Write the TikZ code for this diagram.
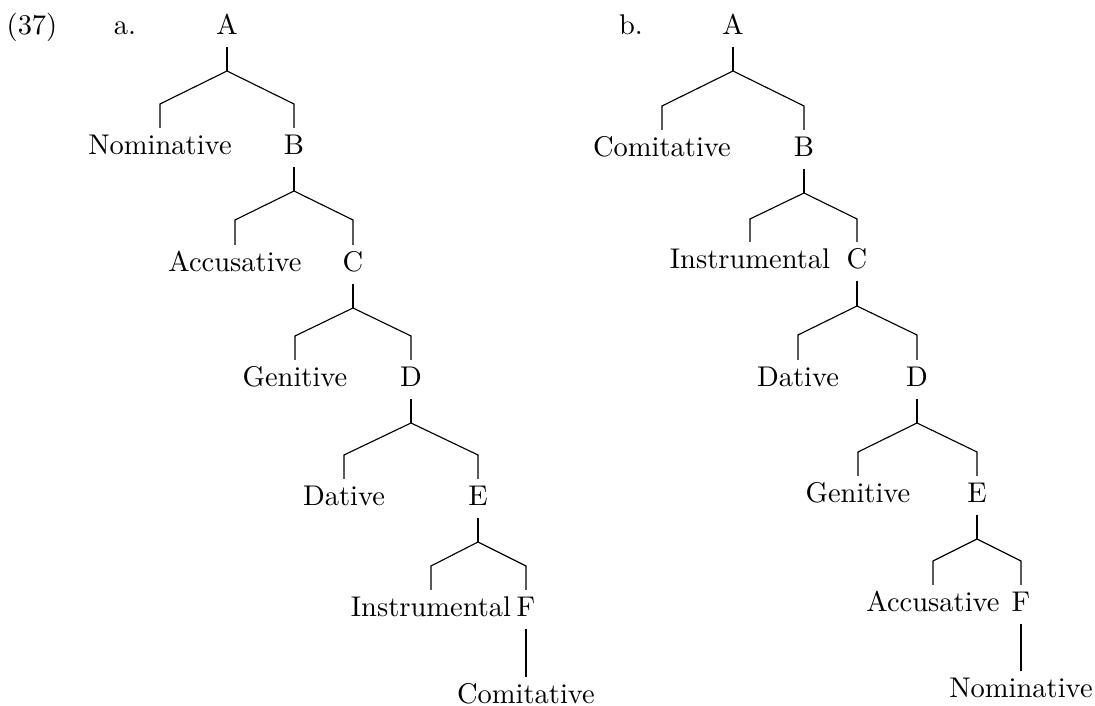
\documentclass[tikz,border=0pt]{standalone}
\usepackage{tikz}
\usetikzlibrary{positioning}
\tikzset{
    cat/.style={anchor=base, text height=6.83pt, text depth=1.4pt, inner ysep=2.5pt},
    branch/.style={draw=black, line width=0.4pt},
}
\begin{document}
\begin{tikzpicture}[x=0.3509pt, y=-0.3509pt]
	\useasboundingbox (0,0) rectangle (1095,706);
	\node[cat] (ex) at (32,35) {(37)};
	\node[cat] (la) at (125,35) {a.};
	\node[cat] (lb) at (631,35) {b.};
	% tree a
	\node[cat] (aA) at (227,35) {A};
	\node[cat] (aNom) at (160,155) {Nominative};
	\node[cat] (aB) at (294,155) {B};
	\node[cat] (aAcc) at (235,272) {Accusative};
	\node[cat] (aC) at (353,272) {C};
	\node[cat] (aGen) at (295,387) {Genitive};
	\node[cat] (aD) at (411,387) {D};
	\node[cat] (aDat) at (344,506) {Dative};
	\node[cat] (aE) at (478,506) {E};
	\node[cat] (aIns) at (431,617) {Instrumental};
	\node[cat] (aF) at (526,617) {F};
	\node[cat] (aCom) at (526,704) {Comitative};
	\coordinate (aAj) at (227,71);
	\coordinate (aAl) at (160,104);
	\coordinate (aAr) at (294,104);
	\coordinate (aBj) at (294,191);
	\coordinate (aBl) at (235,220);
	\coordinate (aBr) at (353,220);
	\coordinate (aCj) at (353,308);
	\coordinate (aCl) at (295,336);
	\coordinate (aCr) at (411,336);
	\coordinate (aDj) at (411,423);
	\coordinate (aDl) at (344,455);
	\coordinate (aDr) at (478,455);
	\coordinate (aEj) at (478,542);
	\coordinate (aEl) at (431,566);
	\coordinate (aEr) at (526,566);
	\draw[branch] (aA) -- (aAj);
	\draw[branch] (aNom) -- (aAl) -- (aAj) -- (aAr) -- (aB);
	\draw[branch] (aB) -- (aBj);
	\draw[branch] (aAcc) -- (aBl) -- (aBj) -- (aBr) -- (aC);
	\draw[branch] (aC) -- (aCj);
	\draw[branch] (aGen) -- (aCl) -- (aCj) -- (aCr) -- (aD);
	\draw[branch] (aD) -- (aDj);
	\draw[branch] (aDat) -- (aDl) -- (aDj) -- (aDr) -- (aE);
	\draw[branch] (aE) -- (aEj);
	\draw[branch] (aIns) -- (aEl) -- (aEj) -- (aEr) -- (aF);
	\draw[branch] (aF) -- (aCom);
	% tree b
	\node[cat] (bA) at (733,35) {A};
	\node[cat] (bCom) at (662,157) {Comitative};
	\node[cat] (bB) at (804,157) {B};
	\node[cat] (bIns) at (750,269) {Instrumental};
	\node[cat] (bC) at (857,269) {C};
	\node[cat] (bDat) at (798,387) {Dative};
	\node[cat] (bD) at (917,387) {D};
	\node[cat] (bGen) at (858,503) {Genitive};
	\node[cat] (bE) at (977,503) {E};
	\node[cat] (bAcc) at (933,612) {Accusative};
	\node[cat] (bF) at (1021,612) {F};
	\node[cat] (bNom) at (1021,698) {Nominative};
	\coordinate (bAj) at (733,71);
	\coordinate (bAl) at (662,106);
	\coordinate (bAr) at (804,106);
	\coordinate (bBj) at (804,193);
	\coordinate (bBl) at (750,219);
	\coordinate (bBr) at (857,219);
	\coordinate (bCj) at (857,306);
	\coordinate (bCl) at (798,335);
	\coordinate (bCr) at (917,335);
	\coordinate (bDj) at (917,423);
	\coordinate (bDl) at (858,452);
	\coordinate (bDr) at (977,452);
	\coordinate (bEj) at (977,539);
	\coordinate (bEl) at (933,561);
	\coordinate (bEr) at (1021,561);
	\draw[branch] (bA) -- (bAj);
	\draw[branch] (bCom) -- (bAl) -- (bAj) -- (bAr) -- (bB);
	\draw[branch] (bB) -- (bBj);
	\draw[branch] (bIns) -- (bBl) -- (bBj) -- (bBr) -- (bC);
	\draw[branch] (bC) -- (bCj);
	\draw[branch] (bDat) -- (bCl) -- (bCj) -- (bCr) -- (bD);
	\draw[branch] (bD) -- (bDj);
	\draw[branch] (bGen) -- (bDl) -- (bDj) -- (bDr) -- (bE);
	\draw[branch] (bE) -- (bEj);
	\draw[branch] (bAcc) -- (bEl) -- (bEj) -- (bEr) -- (bF);
	\draw[branch] (bF) -- (bNom);
\end{tikzpicture}
\end{document}
